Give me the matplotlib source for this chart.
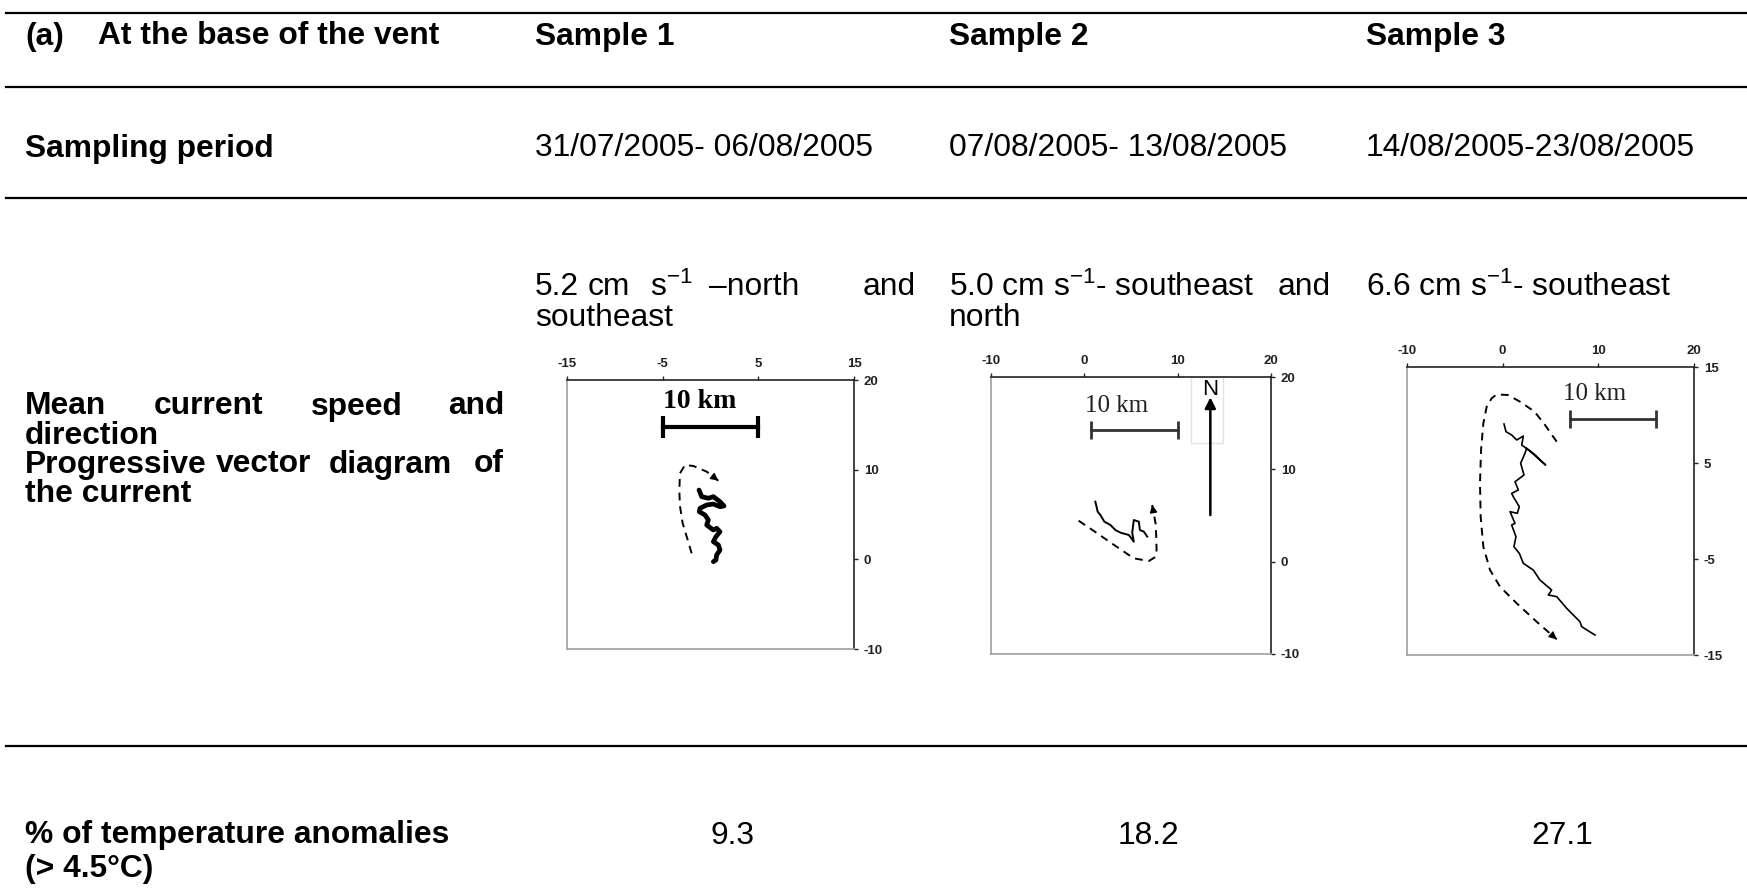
import matplotlib.pyplot as plt
from matplotlib.lines import Line2D
from matplotlib.patches import Rectangle

plt.rcParams['font.family'] = ['Liberation Sans', 'DejaVu Sans']
plt.rcParams['mathtext.fontset'] = 'custom'
plt.rcParams['mathtext.rm'] = 'Liberation Sans'
plt.rcParams['mathtext.it'] = 'Liberation Sans:italic'
plt.rcParams['mathtext.bf'] = 'Liberation Sans:bold'
plt.rcParams['axes.unicode_minus'] = False

# table content
samples = ["Sample 1", "Sample 2", "Sample 3"]
periods = ["31/07/2005- 06/08/2005", "07/08/2005- 13/08/2005", "14/08/2005-23/08/2005"]
anomalies = ["9.3", "18.2", "27.1"]

# progressive vector diagrams (km)
x_ticks = [[-15, -5, 5, 15], [-10, 0, 10, 20], [-10, 0, 10, 20]]
y_ticks = [[-10, 0, 10, 20], [-10, 0, 10, 20], [-15, -5, 5, 15]]

track1_x = [-1.20, -0.92, -0.23, 0.30, 0.99, 1.41, 0.99, 0.30, -0.40, -1.10, -1.17, -0.57,
            -0.23, -0.40, 0.30, 0.64, 0.99, 0.57, 0.30, 0.82, 0.99, 0.64, 0.57, 0.30]
track1_y = [7.73, 6.99, 6.81, 6.99, 6.43, 5.95, 5.87, 6.17, 6.06, 5.69, 5.31, 4.94,
            4.39, 3.83, 3.27, 3.46, 3.08, 2.53, 1.97, 1.60, 1.04, 0.48, -0.07, -0.26]
path1_x = [-1.97, -2.45, -2.91, -3.20, -3.26, -3.19, -2.67, -1.80, -0.40, 0.82]
path1_y = [0.67, 2.40, 4.02, 6.00, 7.73, 9.59, 10.52, 10.41, 9.78, 8.77]

track2_x = [1.18, 1.43, 1.72, 2.15, 2.80, 3.33, 3.87, 4.77, 5.30, 5.13, 5.30, 5.84, 5.95, 6.38, 6.74]
track2_y = [6.50, 5.41, 5.05, 4.33, 3.97, 3.43, 3.14, 2.89, 2.16, 3.14, 4.51, 4.33, 3.43, 3.25, 2.71]
path2_x = [-0.61, 1.20, 3.20, 5.30, 6.91, 7.60, 7.74, 7.70, 7.63, 7.27]
path2_y = [4.44, 3.20, 1.80, 0.36, 0.07, 0.50, 1.26, 2.80, 4.15, 6.14]

track3_x = [0.14, 0.35, 0.94, 1.47, 2.16, 1.99, 3.20, 4.49, 3.90, 2.51, 2.33, 1.88, 2.23, 1.29,
            1.64, 0.94, 1.11, 1.74, 1.53, 0.77, 1.29, 0.94, 1.39, 1.18, 1.74, 2.16, 3.20, 3.90,
            5.12, 4.77, 5.65, 6.69, 8.08, 8.26, 9.65]
track3_y = [9.06, 8.26, 7.92, 7.40, 7.81, 6.87, 6.01, 4.79, 5.31, 6.53, 6.01, 4.97, 3.75, 3.05,
            2.19, 1.84, 1.49, 0.45, -0.24, -0.07, -1.29, -1.46, -2.68, -3.72, -4.41, -5.45,
            -6.15, -7.19, -8.23, -8.75, -8.92, -10.14, -11.53, -12.05, -12.92]
path3_x = [5.65, 4.43, 3.33, 1.81, 0.55, -0.63, -1.15, -1.67, -2.02, -2.26, -2.37, -2.30,
           -2.02, -1.32, -0.28, 1.47, 3.55, 5.65]
path3_y = [7.22, 8.96, 10.35, 11.39, 12.08, 12.15, 11.74, 10.87, 9.13, 6.35, 2.88, -0.59,
           -3.72, -6.15, -7.88, -9.62, -11.53, -13.37]

W, H = 1747, 891
fig = plt.figure(figsize=(W / 100, H / 100), dpi=100)


def ftext(x, y, s, **kw):
    kw.setdefault('fontsize', 22.9)
    kw.setdefault('va', 'center')
    fig.text(x / W, 1 - (y + 3.5) / H, s, **kw)


# horizontal rules of the table
for yl in [13, 87, 198, 746]:
    fig.add_artist(Line2D([6 / W, 1], [1 - yl / H, 1 - yl / H], color='black', lw=1.6))

# header row
ftext(25, 33, "(a)", weight='bold')
ftext(98, 33, "At the base of the vent", weight='bold')
col_x = [535, 949, 1366]
for cx, s in zip(col_x, samples):
    ftext(cx, 33, s, weight='bold')

# sampling period row
ftext(25, 145, "Sampling period", weight='bold')
for cx, s in zip(col_x, periods):
    ftext(cx, 145, s)

# mean speed row
ftext(535, 284, "5.2")
ftext(588, 284, "cm")
ftext(650, 284, r"s$^{-1}$")
ftext(709, 284, "\u2013north")
ftext(916, 284, "and", ha='right')
ftext(535, 315, "southeast")
ftext(949, 284, r"5.0 cm s$^{-1}$- southeast")
ftext(1331, 284, "and", ha='right')
ftext(949, 315, "north")
ftext(1366, 284, r"6.6 cm s$^{-1}$- southeast")

# justified row label
ftext(25, 403, "Mean", weight='bold')
ftext(154, 403, "current", weight='bold')
ftext(311, 403, "speed", weight='bold')
ftext(504, 403, "and", weight='bold', ha='right')
ftext(25, 432, "direction", weight='bold')
ftext(25, 461, "Progressive", weight='bold')
ftext(216, 461, "vector", weight='bold')
ftext(329, 461, "diagram", weight='bold')
ftext(504, 461, "of", weight='bold', ha='right')
ftext(25, 490, "the current", weight='bold')

# anomalies row
ftext(25, 832, "% of temperature anomalies", weight='bold')
ftext(25, 866, "(> 4.5\u00b0C)", weight='bold')
for cx, s in zip([732, 1148, 1562], anomalies):
    ftext(cx, 832, s, ha='center')

# diagrams
boxes = [(567, 380, 854, 649), (991, 377, 1271, 654), (1407, 367, 1694, 655)]
axes = []
for (l, t, r, b), xt, yt in zip(boxes, x_ticks, y_ticks):
    ax = fig.add_axes([l / W, 1 - b / H, (r - l) / W, (b - t) / H])
    ax.set_xlim(xt[0], xt[-1])
    ax.set_ylim(yt[0], yt[-1])
    ax.set_xticks(xt)
    ax.set_yticks(yt)
    ax.xaxis.tick_top()
    ax.yaxis.tick_right()
    ax.tick_params(direction='out', length=3, width=1, pad=4, labelsize=9.5, colors='#222222')
    for lab in ax.get_xticklabels() + ax.get_yticklabels():
        lab.set_fontweight('bold')
    ax.spines['top'].set_color('#222222')
    ax.spines['right'].set_color('#222222')
    ax.spines['left'].set_color('#a0a0a0')
    ax.spines['bottom'].set_color('#a0a0a0')
    for sp in ax.spines.values():
        sp.set_linewidth(1.2)
    axes.append(ax)

ax1, ax2, ax3 = axes


def dashed_arrow(ax, px, py):
    ax.plot(px, py, color='black', lw=1.4, ls=(0, (4, 3)))
    tx, ty = px[-1], py[-1]
    sx = tx - 0.15 * (tx - px[-2])
    sy = ty - 0.15 * (ty - py[-2])
    ax.annotate('', xy=(tx, ty), xytext=(sx, sy),
                arrowprops=dict(arrowstyle='-|>', color='black', lw=1.0,
                                mutation_scale=11, shrinkA=0, shrinkB=0))


# sample 1
ax1.plot(track1_x, track1_y, color='black', lw=3.4, solid_capstyle='round', solid_joinstyle='round')
dashed_arrow(ax1, path1_x, path1_y)
ax1.plot([-5, 5], [14.8, 14.8], color='black', lw=3, marker='|', markersize=16, mew=3)
ax1.text(-5, 16.9, "10 km", family='Liberation Serif', weight='bold', fontsize=20, va='baseline')

# sample 2
ax2.plot(track2_x, track2_y, color='black', lw=1.4)
dashed_arrow(ax2, path2_x, path2_y)
ax2.plot([0.72, 10.07], [14.26, 14.26], color='#333333', lw=2, marker='|', markersize=13, mew=2)
ax2.text(0.1, 16.2, "10 km", family='Liberation Serif', fontsize=18, va='baseline', color='#222222')
ax2.add_patch(Rectangle((11.4, 12.85), 3.5, 7.15, facecolor='white', edgecolor='#e2e2e2', lw=1))
ax2.text(13.5, 18.7, "N", fontsize=16, ha='center', va='center')
ax2.annotate('', xy=(13.5, 17.8), xytext=(13.5, 5.05),
             arrowprops=dict(arrowstyle='-|>', color='black', lw=1.8, mutation_scale=16,
                             shrinkA=0, shrinkB=0))

# sample 3
ax3.plot(track3_x, track3_y, color='black', lw=1.2)
dashed_arrow(ax3, path3_x, path3_y)
ax3.plot([7.04, 16.03], [9.55, 9.55], color='#333333', lw=2, marker='|', markersize=13, mew=2)
ax3.text(6.34, 11.56, "10 km", family='Liberation Serif', fontsize=18, va='baseline', color='#222222')

fig.savefig('out.png', dpi=100)
